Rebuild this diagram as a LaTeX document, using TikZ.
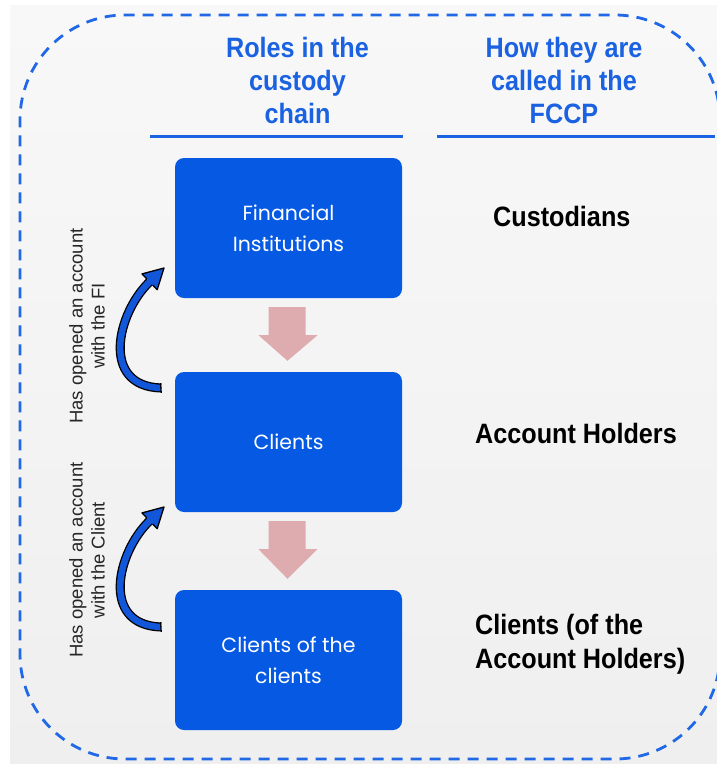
\documentclass[tikz,border=0pt]{standalone}
\usepackage{fontspec}
\setmainfont{Liberation Sans}
\newfontfamily\headfont{Liberation Sans}[FakeStretch=0.9]
\newfontfamily\boxfont{Poppins}
\usetikzlibrary{calc}

\definecolor{bgtop}{RGB}{248,248,248}
\definecolor{bgbot}{RGB}{239,239,239}
\definecolor{boxblue}{RGB}{5,89,226}
\definecolor{headblue}{RGB}{26,98,225}
\definecolor{frameblue}{RGB}{32,104,230}
\definecolor{curveblue}{RGB}{18,86,218}
\definecolor{flowpink}{RGB}{222,172,174}

\begin{document}
\begin{tikzpicture}[x=1pt,y=-1pt,
  rolebox/.style={fill=boxblue, rounded corners=9pt, minimum width=227pt,
    minimum height=140pt, inner sep=0pt, text=white, align=center,
    font=\boxfont\fontsize{20.5}{31}\selectfont},
  headtext/.style={inner sep=0pt, text=headblue, align=center,
    font=\headfont\bfseries\fontsize{28}{33}\selectfont},
  sidelabel/.style={inner sep=0pt, text=black, align=left,
    font=\headfont\bfseries\fontsize{28}{34}\selectfont},
  sidenote/.style={inner sep=0pt, text=black!85, align=center, rotate=90,
    font=\fontsize{18.5}{22}\selectfont},
  headrule/.style={draw=headblue, line width=3pt},
  dashframe/.style={draw=frameblue, line width=2.8pt, dash pattern=on 11pt off 8pt},
  flowarrow/.style={fill=flowpink},
  curveshaft/.style={draw=black, line width=1.3pt, double=curveblue, double distance=6.5pt},
  curvehead/.style={fill=curveblue},
  curveedge/.style={draw=black, line width=1.3pt, line join=round}
]
\begin{scope}
\clip (0,0) rectangle (717,764);

% paper
\shade[top color=bgtop, bottom color=bgbot] (10,5) rectangle (717,764);

% dashed frame; its right side runs past the page edge
\draw[dashframe] ([shift={(-10:105)}]615,120) arc[start angle=-10, end angle=-90, radius=105]
  -- (125,15) arc[start angle=-90, end angle=-180, radius=105]
  -- (20,654) arc[start angle=180, end angle=90, radius=105]
  -- (615,759) arc[start angle=90, end angle=10, radius=105];

% column headings
\node[headtext, anchor=north] (hroles) at (297.5,37) {Roles in the\\custody\\chain};
\node[headtext, anchor=north] (hnames) at (564,37) {How they are\\called in the\\FCCP};
\draw[headrule] (150,136) -- (403,136);
\draw[headrule] (437,136) -- (715,136);

% the chain
\node[rolebox] (fi) at (288.5,228) {Financial\\Institutions};
\node[rolebox] (cl) at (288.5,442) {Clients};
\node[rolebox] (cc) at (288.5,660) {Clients of the\\clients};

% names used in the FCCP
\node[sidelabel, anchor=base west] (cust) at (493,226) {Custodians};
\node[sidelabel, anchor=base west] (acch) at (475,443) {Account Holders};
\node[sidelabel, anchor=base west] (clah) at (475,668) {Clients (of the\\Account Holders)};

% downward block arrows between the boxes
\foreach \a/\b in {fi/cl, cl/cc}{
  \fill[flowarrow] ($(\a.south)+(-20,9)$) -- ($(\a.south)+(17,9)$)
    -- ($(\a.south)+(17,37)$) -- ($(\a.south)+(29,37)$)
    -- ($(\b.north)+(-1,-11)$)
    -- ($(\a.south)+(-30,37)$) -- ($(\a.south)+(-20,37)$) -- cycle;
}

% curved arrows: the lower party has opened an account with the upper one
\foreach \dy/\nm in {0/one, 239/two}{
  \begin{scope}[yshift=-\dy pt]
    \coordinate (tail\nm) at (161,388);
    \coordinate (base\nm) at (149.6,281.8);
    \coordinate (tip\nm)  at (164,268);
    \draw[curveshaft] (tail\nm) .. controls (100,386) and (117.1,312.9) .. (base\nm);
    \draw[black, line width=1.3pt] (160.6,383.2) -- (161.2,392.8);
    \fill[curvehead] (146.6,278.7) -- (142.0,273.9) -- (tip\nm) -- (157.2,289.7)
      -- (152.6,284.9) -- cycle;
    \draw[curveedge] (146.6,278.7) -- (142.0,273.9) -- (tip\nm) -- (157.2,289.7)
      -- (152.6,284.9);
  \end{scope}
}

% side notes
\node[sidenote] (note1) at (87,326) {Has opened an account\\with the FI};
\node[sidenote] (note2) at (87,560) {Has opened an account\\with the Client};
\end{scope}

% page size
\pgfresetboundingbox
\useasboundingbox (0,0) rectangle (717,764);
\end{tikzpicture}
\end{document}
